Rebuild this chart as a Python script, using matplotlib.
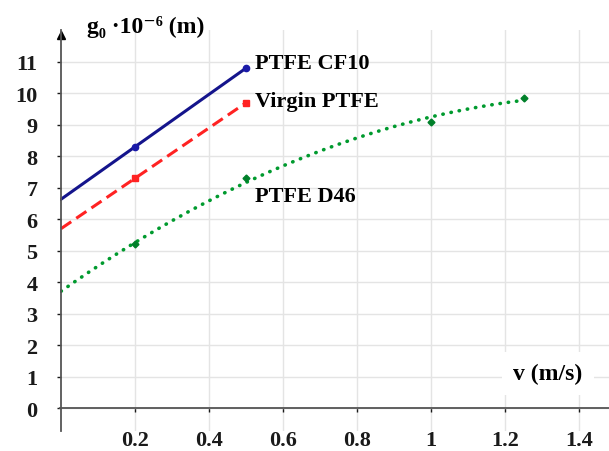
import matplotlib.pyplot as plt
import numpy as np

# values
v_cf10 = [0.2, 0.5]
g_cf10 = [8.3, 10.8]
v_virgin = [0.2, 0.5]
g_virgin = [7.3, 9.7]
v_d46 = [0.2, 0.5, 1.0, 1.25]
g_d46 = [5.2, 7.3, 9.1, 9.85]

xticks = [0.2, 0.4, 0.6, 0.8, 1.0, 1.2, 1.4]
xtick_labels = ["0.2", "0.4", "0.6", "0.8", "1", "1.2", "1.4"]
yticks = list(range(0, 12))

serif = ["Liberation Serif", "DejaVu Serif"]
plt.rcParams["font.family"] = serif
plt.rcParams["font.weight"] = "bold"

fig = plt.figure(figsize=(6.09, 4.52), dpi=100)
ax = fig.add_axes([0.0985, 0.044, 0.9015, 0.887])

# trendlines (linear for the two short series, quadratic for D46), drawn from v=0
fits = [(v_cf10, g_cf10, 1, "#14148c", "-", 0.5),
        (v_virgin, g_virgin, 1, "#ff2222", (0, (4, 2)), 0.5),
        (v_d46, g_d46, 2, "#009a2e", (0, (0.1, 2.2)), 1.25)]
for xs, ys, deg, col, ls, xend in fits:
    p = np.polyfit(xs, ys, deg)
    xx = np.linspace(0, xend, 200)
    lw = 2.2 if deg == 1 else 2.6
    line, = ax.plot(xx, np.polyval(p, xx), color=col, lw=lw, ls=ls)
    if deg == 2:
        line.set_dash_capstyle("round")

ax.plot(v_cf10, g_cf10, "o", color="#1a1aa8", ms=4.5)
ax.plot(v_virgin, g_virgin, "s", color="#ff2222", ms=4.5)
ax.plot(v_d46, g_d46, "D", color="#00802a", ms=3.5)

ax.text(0.525, 10.95, "PTFE CF10", fontsize=16, fontweight="bold", va="center")
ax.text(0.525, 9.75, "Virgin PTFE", fontsize=16, fontweight="bold", va="center")
ax.text(0.525, 6.75, "PTFE D46", fontsize=16, fontweight="bold", va="center")

ax.set_xlim(-0.003, 1.48)
ax.set_ylim(-0.73, 12.0)
ax.set_xticks(xticks)
ax.set_xticklabels(xtick_labels)
ax.set_yticks(yticks)
ax.tick_params(labelsize=16, colors="#1a1a1a", length=3, width=1)
ax.tick_params(axis="x", pad=13)
ax.tick_params(axis="y", pad=14)
for lab in ax.get_xticklabels() + ax.get_yticklabels():
    lab.set_fontweight("bold")
for lab in ax.get_xticklabels() + ax.get_yticklabels():
    lab.set_color("#1a1a1a")

ax.grid(True, color="#e4e4e4", lw=1)
ax.set_axisbelow(True)
for s in ["top", "right"]:
    ax.spines[s].set_visible(False)
ax.spines["bottom"].set_position(("data", 0))
ax.spines["left"].set_position(("data", 0))
ax.spines["bottom"].set_color("#555555")
ax.spines["left"].set_color("#555555")
ax.spines["bottom"].set_linewidth(1.3)
ax.spines["left"].set_linewidth(1.3)

# arrow head on the y axis
ax.plot(0, 11.85, "^", color="black", ms=6, clip_on=False)

fig.text(0.143, 0.94, "g\u2080 \u00b710\u207b\u2076 (m)", fontsize=17, fontweight="bold",
         va="center", family=serif)
ax.text(1.315, 1.1, "v (m/s)", fontsize=17, fontweight="bold", ha="center", va="center",
        bbox=dict(facecolor="white", edgecolor="none", pad=8))

fig.savefig("out.png", dpi=100)
